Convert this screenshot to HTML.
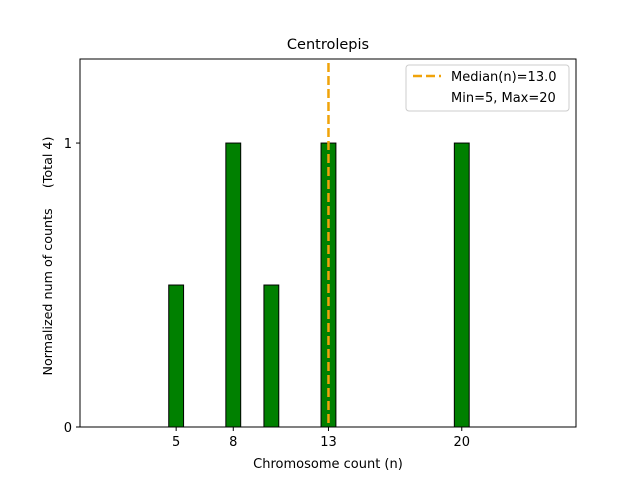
<!DOCTYPE html>
<html><head><meta charset="utf-8"><style>
body{margin:0;background:#fff;}
text{font-family:"DejaVu Sans","Liberation Sans",sans-serif;}
</style></head><body>
<svg id="c" width="640" height="480" xmlns="http://www.w3.org/2000/svg">
<rect width="640" height="480" fill="#fff"/>
<text x="328" y="49" font-size="14.5" text-anchor="middle">Centrolepis</text>
<g id="bars"></g>
<g id="ticks"></g>
<line id="median" stroke="#f0a30a" stroke-width="2.5" stroke-dasharray="9,4"/>
<rect x="80" y="59" width="496" height="368" fill="none" stroke="#000" stroke-width="1"/>
<text x="328" y="468" font-size="13" text-anchor="middle">Chromosome count (n)</text>
<text transform="translate(52,256) rotate(-90)" font-size="12.7" text-anchor="middle" xml:space="preserve" style="white-space:pre">Normalized num of counts     (Total 4)</text>
<g>
<rect x="406" y="65" width="163" height="46" rx="3" fill="#fff" stroke="#ccc"/>
<line x1="413" y1="76" x2="441" y2="76" stroke="#f0a30a" stroke-width="2.5" stroke-dasharray="9,4"/>
<text x="451" y="81" font-size="13">Median(n)=13.0</text>
<text x="451" y="102" font-size="13">Min=5, Max=20</text>
</g>
</svg>
<script>
const categories=[5,8,10,13,20];
const values=[0.5,1,0.5,1,1];
const xTicks=[5,8,13,20];
const yTicks=[0,1];
const median=13;
const X0=80,X1=576,Y0=427,Y1=59,xmin=-0.05,xmax=26,ymin=0,ymax=1.296;
const xs=v=>X0+(v-xmin)/(xmax-xmin)*(X1-X0);
const ys=v=>Y0-(v-ymin)/(ymax-ymin)*(Y0-Y1);
const NS="http://www.w3.org/2000/svg";
const bars=document.getElementById('bars'),ticks=document.getElementById('ticks');
const bw=0.78;
categories.forEach((c,i)=>{
 const r=document.createElementNS(NS,'rect');
 r.setAttribute('x',xs(c-bw/2));r.setAttribute('width',xs(c+bw/2)-xs(c-bw/2));
 r.setAttribute('y',ys(values[i]));r.setAttribute('height',ys(0)-ys(values[i]));
 r.setAttribute('fill','#008000');r.setAttribute('stroke','#000');r.setAttribute('stroke-width','1');
 
 
 bars.appendChild(r);
});
xTicks.forEach(t=>{
 const l=document.createElementNS(NS,'line');
 l.setAttribute('x1',xs(t));l.setAttribute('x2',xs(t));l.setAttribute('y1',Y0);l.setAttribute('y2',Y0+4);l.setAttribute('stroke','#000');
 
 
 ticks.appendChild(l);
 const tx=document.createElementNS(NS,'text');
 tx.setAttribute('x',xs(t));tx.setAttribute('y',Y0+19);tx.setAttribute('font-size','13');tx.setAttribute('text-anchor','middle');tx.textContent=t;
 
 
 ticks.appendChild(tx);
});
yTicks.forEach(t=>{
 const l=document.createElementNS(NS,'line');
 l.setAttribute('x1',X0-4);l.setAttribute('x2',X0);l.setAttribute('y1',ys(t));l.setAttribute('y2',ys(t));l.setAttribute('stroke','#000');
 
 
 ticks.appendChild(l);
 const tx=document.createElementNS(NS,'text');
 tx.setAttribute('x',X0-8);tx.setAttribute('y',ys(t)+5);tx.setAttribute('font-size','13');tx.setAttribute('text-anchor','end');tx.textContent=t;
 
 
 ticks.appendChild(tx);
});
const m=document.getElementById('median');
m.setAttribute('x1',xs(median));m.setAttribute('x2',xs(median));m.setAttribute('y1',Y1+4);m.setAttribute('y2',Y0);
</script>
</body></html>
